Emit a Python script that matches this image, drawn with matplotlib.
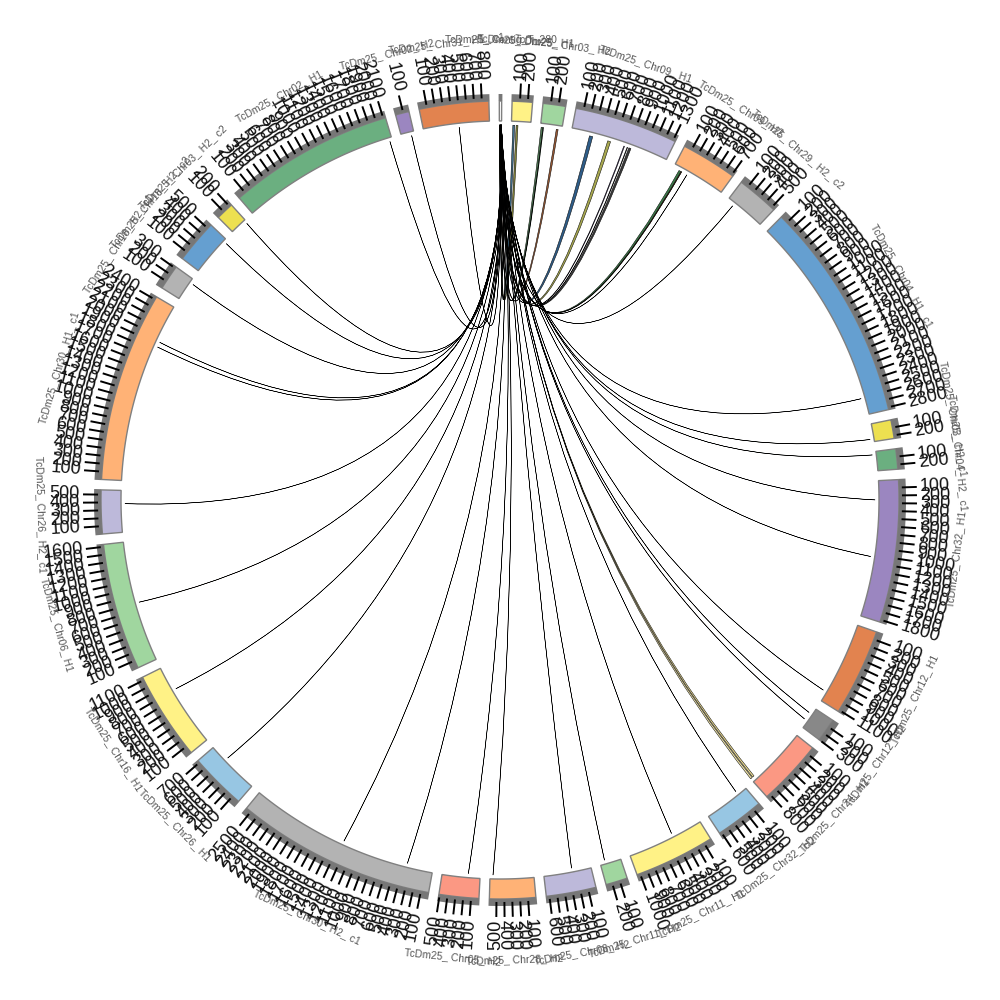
import numpy as np
import matplotlib
matplotlib.use('Agg')
import matplotlib.pyplot as plt
from matplotlib.patches import Polygon, PathPatch
from matplotlib.path import Path

plt.rcParams['font.family'] = ['Liberation Sans', 'DejaVu Sans']

# sectors, clockwise from the top
names = ['TcDm25_ Contig_T_280', 'TcDm25_ Chr25_ H1', 'TcDm25_ Chr03_ H2', 'TcDm25_ Chr09_ H1',
         'TcDm25_ Chr09_ H2', 'TcDm25_ Chr29_ H2_ c2', 'TcDm25_ Chr04_ H1_ c1', 'TcDm25_ Chr03_ H2_ c1',
         'TcDm25_ Chr04_ H2_ c1', 'TcDm25_ Chr32_ H1', 'TcDm25_ Chr12_ H1', 'TcDm25_ Chr12_ H2',
         'TcDm25_ Chr24_ H1', 'TcDm25_ Chr32_ H2', 'TcDm25_ Chr11_ H1', 'TcDm25_ Chr11_ H2',
         'TcDm25_ Chr08_ H2', 'TcDm25_ Chr28_ H2', 'TcDm25_ Chr05_ H2', 'TcDm25_ Chr30_ H2_ c1',
         'TcDm25_ Chr26_ H1', 'TcDm25_ Chr16_ H1', 'TcDm25_ Chr06_ H1', 'TcDm25_ Chr26_ H2_ c1',
         'TcDm25_ Chr30_ H1_ c1', 'TcDm25_ Chr18_ H2_ c1', 'TcDm25_ Chr18_ H2_ c2', 'TcDm25_ Chr03_ H2_ c2',
         'TcDm25_ Chr02_ H1', 'TcDm25_ Chr02_ H2', 'TcDm25_ Chr31_ H1_ c1']
lengths = [30, 260, 290, 1330, 720, 540, 2830, 240, 260, 1830, 1120, 300, 850, 625, 1040, 280,
           640, 590, 510, 2570, 730, 1140, 1630, 560, 2440, 320, 560, 230, 2130, 175, 890]
colors = ['#FFFFFF', '#FFF286', '#A0D69F', '#BDB9DA', '#FFB276', '#B3B3B3', '#659FD0', '#EDE050',
          '#6BAF80', '#9B86C0', '#E2834F', '#888888', '#FB9883', '#97C6E3', '#FFF286', '#A0D69F',
          '#BDB9DA', '#FFB276', '#FB9883', '#B3B3B3', '#97C6E3', '#FFF286', '#A0D69F', '#BDB9DA',
          '#FFB276', '#B3B3B3', '#659FD0', '#EDE050', '#6BAF80', '#9B86C0', '#E2834F']

# links, all leave the thin sector at the top
link_sector = [1, 1, 2, 2, 2, 3, 3, 3, 3, 3, 4, 4, 4, 5, 6, 7, 8, 9, 9, 10, 11, 11, 12, 12,
               13, 14, 15, 16, 17, 18, 19, 19, 20, 21, 22, 23, 24, 24, 25, 26, 27, 28, 29, 30]
link_pos = [20, 64, 10, 35, 216, 250, 505, 733, 780, 805, 85, 115, 205, 99, 2602, 203, 41, 256, 1022,
            982, 87, 193, 790, 825, 131, 410, 212, 257, 548, 159, 351, 1258, 493, 800, 798, 382,
            1932, 1862, 260, 519, 215, 2094, 135, 479]
link_size = [25, 25, 25, 8, 25, 45, 40, 10, 8, 30, 40, 10, 2, 2, 2, 2, 2, 2, 2, 2, 2, 3, 25, 25,
             2, 2, 2, 2, 3, 2, 2, 3, 3, 2, 3, 2, 2, 2, 2, 2, 2, 2, 2, 2]
link_src = [2, 3, 4, 5, 6, 7, 8, 9, 10, 11, 12, 13, 14, 15, 16, 17, 18, 18, 19, 19, 20, 20, 21, 22,
            23, 23, 24, 24, 25, 25, 26, 26, 27, 27, 27, 28, 29, 29, 25, 22, 24, 23, 26, 28]
link_colors = ['#3F6E8C', '#85853A', '#4F7A55', '#4F7A55', '#9A5A35', '#2F5D88', '#A8A850', '#6B5B95',
               '#3A3A3A', '#3A3A3A', '#3B7A4A', '#8A4A3A', '#333333', '#556B2F', '#333366', '#556B2F',
               '#2F5F4F', '#333366', '#333333', '#333366', '#333333', '#7A3A2A', '#E8D890', '#F0E4A8',
               '#333333', '#6B4A2A', '#6B3A2A', '#333333', '#7A3A2A', '#2F5F4F', '#2F5F4F', '#8A8A30',
               '#4F7A55', '#333333', '#8A5A3A', '#333333', '#556B2F', '#333333', '#333333', '#333333',
               '#333333', '#6B6B30', '#2F3F55', '#333333']

GAP = 1.5
START = -0.1
R_IN, R_OUT, R_BAND, R_TICK, R_NUM, R_NAME, R_LINK, R_CTRL = 379, 399, 406, 417, 420, 460, 375, 25

scale = (360 - GAP * len(lengths)) / sum(lengths)
starts = START + np.concatenate([[0], np.cumsum(np.array(lengths) * scale + GAP)[:-1]])


def xy(deg, r):
    a = np.radians(deg)
    return r * np.sin(a), r * np.cos(a)


def ring(a0, a1, r0, r1):
    a = np.linspace(a0, a1, 40)
    x0, y0 = xy(a, r0)
    x1, y1 = xy(a[::-1], r1)
    return np.column_stack([np.r_[x0, x1], np.r_[y0, y1]])


def angle_of(sector, pos):
    return starts[sector] + pos * scale


fig = plt.figure(figsize=(10, 10), dpi=100)
ax = fig.add_axes([0, 0, 1, 1])
ax.set_xlim(-500, 500)
ax.set_ylim(-500, 500)
ax.axis('off')

# links: quadratic edges pulled toward the centre
for s, p, w, q, c in zip(link_sector, link_pos, link_size, link_src, link_colors):
    a0, a1 = angle_of(0, q), angle_of(0, q + 0.6 + w * 0.1)
    b0, b1 = angle_of(s, p), angle_of(s, p + w)
    ctrl = xy((a0 + b0) / 2, R_CTRL)
    verts = [xy(a0, R_LINK), ctrl, xy(b0, R_LINK), xy(b1, R_LINK), ctrl, xy(a1, R_LINK), xy(a0, R_LINK)]
    codes = [Path.MOVETO, Path.CURVE3, Path.CURVE3, Path.LINETO, Path.CURVE3, Path.CURVE3, Path.CLOSEPOLY]
    ax.add_patch(PathPatch(Path(verts, codes), facecolor=c, edgecolor='black', lw=0.35, zorder=1))

# sectors, tick band, ticks and labels
for i, (name, length, col) in enumerate(zip(names, lengths, colors)):
    a0 = starts[i]
    a1 = a0 + length * scale
    ax.add_patch(Polygon(ring(a0, a1, R_IN, R_OUT), facecolor=col, edgecolor='#808080', lw=1.0, zorder=2))
    ax.add_patch(Polygon(ring(a0 - 0.1, a1 + 0.1, R_OUT, R_BAND), facecolor='#777777', edgecolor='none', zorder=2))

    for t in range(100, length + 1, 100):
        a = a0 + t * scale
        x0, y0 = xy(a, R_BAND - 4)
        x1, y1 = xy(a, R_TICK)
        ax.plot([x0, x1], [y0, y1], color='black', lw=1.4, solid_capstyle='butt', zorder=3)
        xt, yt = xy(a, R_NUM)
        a_n = a % 360
        if a_n < 180:
            ax.text(xt, yt, str(t), rotation=90 - a_n, ha='left', va='center',
                    rotation_mode='anchor', fontsize=13, color='#111111', zorder=4)
        else:
            ax.text(xt, yt, str(t), rotation=270 - a_n, ha='right', va='center',
                    rotation_mode='anchor', fontsize=13, color='#111111', zorder=4)

    mid = (a0 + (a1 - a0) / 2) % 360
    xn, yn = xy(mid, R_NAME)
    rot = -mid if (mid < 90 or mid > 270) else 180 - mid
    ax.text(xn, yn, name, rotation=rot, ha='center', va='center', rotation_mode='anchor',
            fontsize=7.5, color='#555555', zorder=5)

plt.savefig('out.png', dpi=100)
